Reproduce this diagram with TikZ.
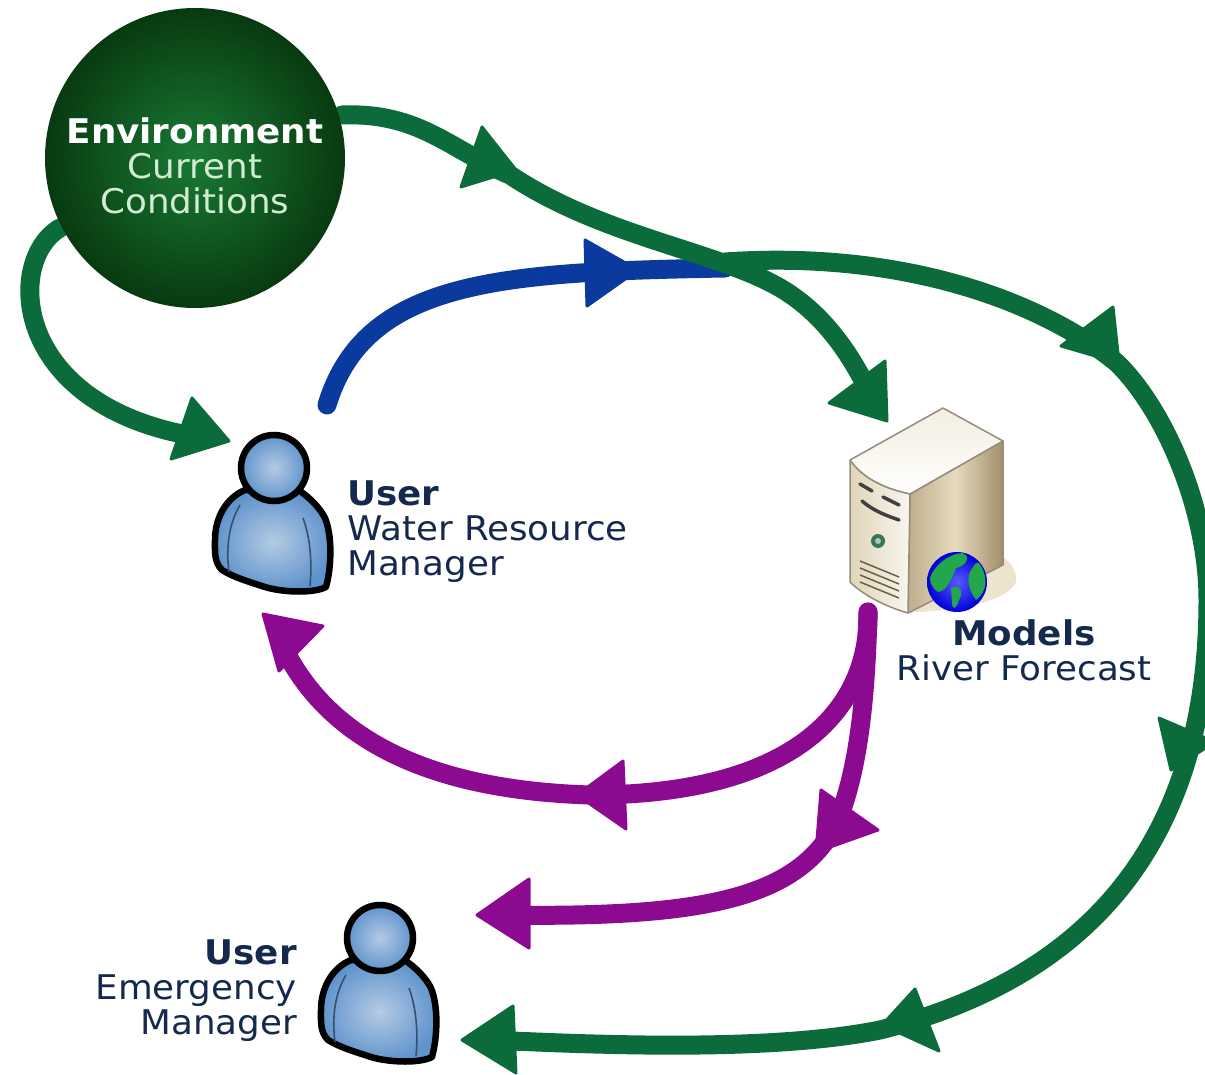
\documentclass[tikz,border=0pt]{standalone}
\usepackage{fontspec}
\setmainfont[FakeStretch=1.05]{DejaVu Sans}
\usetikzlibrary{calc}
\definecolor{flowgreen}{HTML}{0B6B3A}
\definecolor{flowblue}{HTML}{0A3A9E}
\definecolor{flowpurple}{HTML}{8B0A8F}
\definecolor{navytxt}{HTML}{15294F}
\definecolor{envdark}{HTML}{083A10}
\definecolor{envlight}{HTML}{1A7A35}
\definecolor{skin}{HTML}{5F93CC}
\definecolor{skinlight}{HTML}{B4CBE4}
\definecolor{tanA}{HTML}{E6DBBF}
\definecolor{tanB}{HTML}{B49F78}
\definecolor{land}{HTML}{22A84A}
\definecolor{paletxt}{HTML}{D2ECD4}
\tikzset{
  x=1pt,y=-1pt,
  flow/.style={line width=19pt,line cap=round,line join=round},
  headshape/.style={line width=3pt,line join=round},
  lbl/.style={font=\fontsize{34}{35}\selectfont,text=navytxt,inner sep=0pt},
  person/.pic={
    \path[draw=black,line width=6.5pt,line join=round,inner color=skinlight,outer color=skin]
      (245,490) .. controls (226,498) and (215,518) .. (215,540)
      .. controls (215,552) and (214,562) .. (222,570)
      .. controls (235,578) and (250,582) .. (265,587)
      .. controls (285,593) and (315,593) .. (326,587)
      .. controls (332,565) and (332,535) .. (325,518)
      .. controls (320,508) and (310,498) .. (300,491) -- cycle;
    \draw[draw=skin!55!black,line width=1.6pt] (240,505) .. controls (228,525) and (226,550) .. (229,572);
    \draw[draw=skin!55!black,line width=1.6pt] (303,518) .. controls (311,540) and (312,565) .. (310,586);
    \path[draw=black,line width=6.5pt,inner color=skinlight,outer color=skin] (274,468) circle[radius=33];
  }
}
\begin{document}
\begin{tikzpicture}
\useasboundingbox (0,0) rectangle (1205,1075);

\coordinate (a0) at (342,115);
\coordinate (a1) at (510,175);
\coordinate (a2) at (875,405);
\coordinate (b0) at (725,262);
\coordinate (b1) at (1117,363);
\coordinate (b2) at (1208,600);
\coordinate (b3) at (880,1030);
\coordinate (b4) at (490,1040);
\coordinate (c0) at (60,228);
\coordinate (c1) at (205,438);
\coordinate (d0) at (327,405);
\coordinate (d1) at (725,268);
\coordinate (e0) at (868,612);
\coordinate (e1) at (280,640);
\coordinate (e2) at (500,915);

% connectors
\draw[flow,flowblue] (d0) .. controls (365,280) and (500,272) .. (d1);
\draw[flow,flowgreen] (b0) .. controls (900,250) and (1040,300) .. (b1)
   .. controls (1165,410) and (1208,510) .. (b2)
   .. controls (1208,830) and (1100,975) .. (b3)
   .. controls (770,1052) and (600,1045) .. (b4);
\draw[flow,flowgreen] (a0) .. controls (420,112) and (450,150) .. (a1)
   .. controls (600,235) and (710,250) .. (775,285)
   .. controls (825,312) and (855,360) .. (a2);
\draw[flow,flowgreen] (c0) .. controls (5,260) and (10,410) .. (c1);
\draw[flow,flowpurple] (e0) .. controls (870,720) and (780,795) .. (590,795)
   .. controls (430,790) and (325,740) .. (e1);
\draw[flow,flowpurple] (e0) .. controls (866,700) and (858,770) .. (838,820)
   .. controls (800,900) and (700,918) .. (e2);

% nodes
\node[circle,minimum size=300pt,inner sep=0pt,inner color=envlight,outer color=envdark] (env) at (195,158) {};
\node[font=\fontsize{34}{35}\selectfont,text=white,align=center,inner sep=0pt] (envtxt) at (195,166)
  {\textbf{Environment}\\\textcolor{paletxt}{Current}\\\textcolor{paletxt}{Conditions}};
\node[lbl,align=left,anchor=north west] (u1txt) at (347,481) {\textbf{User}\\Water Resource\\Manager};
\node[lbl,align=right,anchor=north east] (u2txt) at (297,940) {\textbf{User}\\Emergency\\Manager};
\node[lbl,align=center] (modtxt) at (1024,650) {\textbf{Models}\\River Forecast};

% arrowheads
\filldraw[headshape,flowgreen,fill=flowgreen] (482,127) -- (516,170) -- (461,187) -- cycle;
\filldraw[headshape,flowgreen,fill=flowgreen] (885,361) -- (887,421) -- (829,403) -- cycle;
\filldraw[headshape,flowgreen,fill=flowgreen] (1113,307) -- (1119,363) -- (1061,346) -- cycle;
\filldraw[headshape,flowgreen,fill=flowgreen] (1159,718) -- (1215,742) -- (1171,770) -- cycle;
\filldraw[headshape,flowgreen,fill=flowgreen] (915,989) -- (939,1051) -- (882,1025) -- cycle;
\filldraw[headshape,flowgreen,fill=flowgreen] (513,1006) -- (462,1040) -- (516,1073) -- cycle;
\filldraw[headshape,flowgreen,fill=flowgreen] (192,398) -- (229,441) -- (171,459) -- cycle;
\filldraw[headshape,flowblue,fill=flowblue] (585,240) -- (638,270) -- (587,306) -- cycle;
\filldraw[headshape,flowpurple,fill=flowpurple] (263,614) -- (323,626) -- (279,671) -- cycle;
\filldraw[headshape,flowpurple,fill=flowpurple] (623,761) -- (577,795) -- (626,829) -- cycle;
\filldraw[headshape,flowpurple,fill=flowpurple] (821,790) -- (878,830) -- (816,852) -- cycle;
\filldraw[headshape,flowpurple,fill=flowpurple] (529,879) -- (477,915) -- (529,948) -- cycle;

% users
\pic (user1) at (0,0) {person};
\pic (user2) at (106,470) {person};

% server
\fill[tanA!75!white] (960,550) .. controls (1000,545) and (1018,565) .. (1016,582)
  .. controls (1005,605) and (950,610) .. (905,613) -- cycle;
\path[left color=tanB!85!white,right color=tanB!90!black,middle color=tanA,draw=gray!60!tanB,line width=1.5pt,line join=round]
  (910,494) -- (1003,441) -- (1003,565) -- (908,613) -- cycle;
\path[draw=gray!60!tanB,line width=1.5pt,line join=round,top color=tanA!50!white,bottom color=white]
  (850,460) -- (943,408) -- (1003,441) -- (910,494) .. controls (880,488) and (860,475) .. (850,460) -- cycle;
\path[draw=gray!60!tanB,line width=1.5pt,line join=round,left color=tanA!90!tanB,right color=white!75!tanA]
  (850,460) .. controls (860,475) and (880,488) .. (910,494) -- (908,613)
  .. controls (880,605) and (860,592) .. (850,582) -- cycle;
\draw[line width=3.5pt,black!75,line cap=round] (860,484) -- (872,491);
\draw[line width=3.5pt,black!75,line cap=round] (883,497) -- (899,505);
\draw[line width=3.5pt,black!75,line cap=round] (862,501) .. controls (875,512) and (888,516) .. (899,520);
\fill[flowgreen!60!gray] (878,541) circle[radius=7];
\fill[white!65!flowgreen] (878,541) circle[radius=3];
\foreach \k in {0,1,2,3}{
  \draw[line width=1.5pt,black!40!tanB] (860,561+\k*7) -- (899,577+\k*7);
}
% globe
\shade[inner color=blue!65!white,outer color=blue!85!black] (957,582) circle[radius=30];
\fill[land] (930,578) .. controls (934,566) and (948,554) .. (962,553)
  .. controls (972,556) and (966,566) .. (956,568) .. controls (952,578) and (946,592) .. (938,592)
  .. controls (934,590) and (930,584) .. (930,578) -- cycle;
\fill[land] (970,572) .. controls (974,566) and (976,558) .. (981,566)
  .. controls (988,578) and (987,592) .. (976,600)
  .. controls (970,592) and (966,580) .. (970,572) -- cycle;
\fill[land] (951,588) .. controls (960,584) and (964,592) .. (959,600)
  .. controls (956,610) and (952,610) .. (952,602) -- cycle;

\node[minimum width=160pt,minimum height=210pt,inner sep=0pt] (server) at (932,510) {};
\end{tikzpicture}
\end{document}
